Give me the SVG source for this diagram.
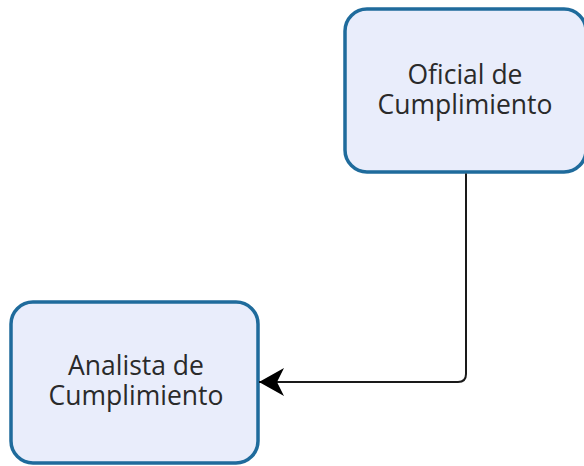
<svg xmlns="http://www.w3.org/2000/svg" width="584" height="466" viewBox="0 0 584 466">
<defs>
<style>
.box{fill:#e9edfb;stroke:#1f6b9c;stroke-width:3.5}
.lbl{font-family:"Open Sans","DejaVu Sans",sans-serif;font-size:26.5px;fill:#2a2a2a;text-anchor:middle}
.edge{fill:none;stroke:#1a1a1a;stroke-width:2}
</style>
<marker id="arr" viewBox="0 0 26 30" refX="25" refY="15" markerWidth="26" markerHeight="30" markerUnits="userSpaceOnUse" orient="auto">
<path d="M25,15 L0,1 L7,15 L0,29 Z" fill="#000"/>
</marker>
</defs>
<rect width="584" height="466" fill="#fff"/>
<g id="oficial">
<rect class="box" x="345" y="9" width="241" height="163" rx="22"/>
<text class="lbl" x="465" y="84"><tspan x="465">Oficial de</tspan><tspan x="465" dy="30">Cumplimiento</tspan></text>
</g>
<g id="analista">
<rect class="box" x="11" y="302" width="247" height="161" rx="22"/>
<text class="lbl" x="136" y="375"><tspan x="136">Analista de</tspan><tspan x="136" dy="30">Cumplimiento</tspan></text>
</g>
<g id="connectors">
<path class="edge" d="M466,173.5 V374 Q466,382 458,382 H259" marker-end="url(#arr)"/>
</g>
</svg>
